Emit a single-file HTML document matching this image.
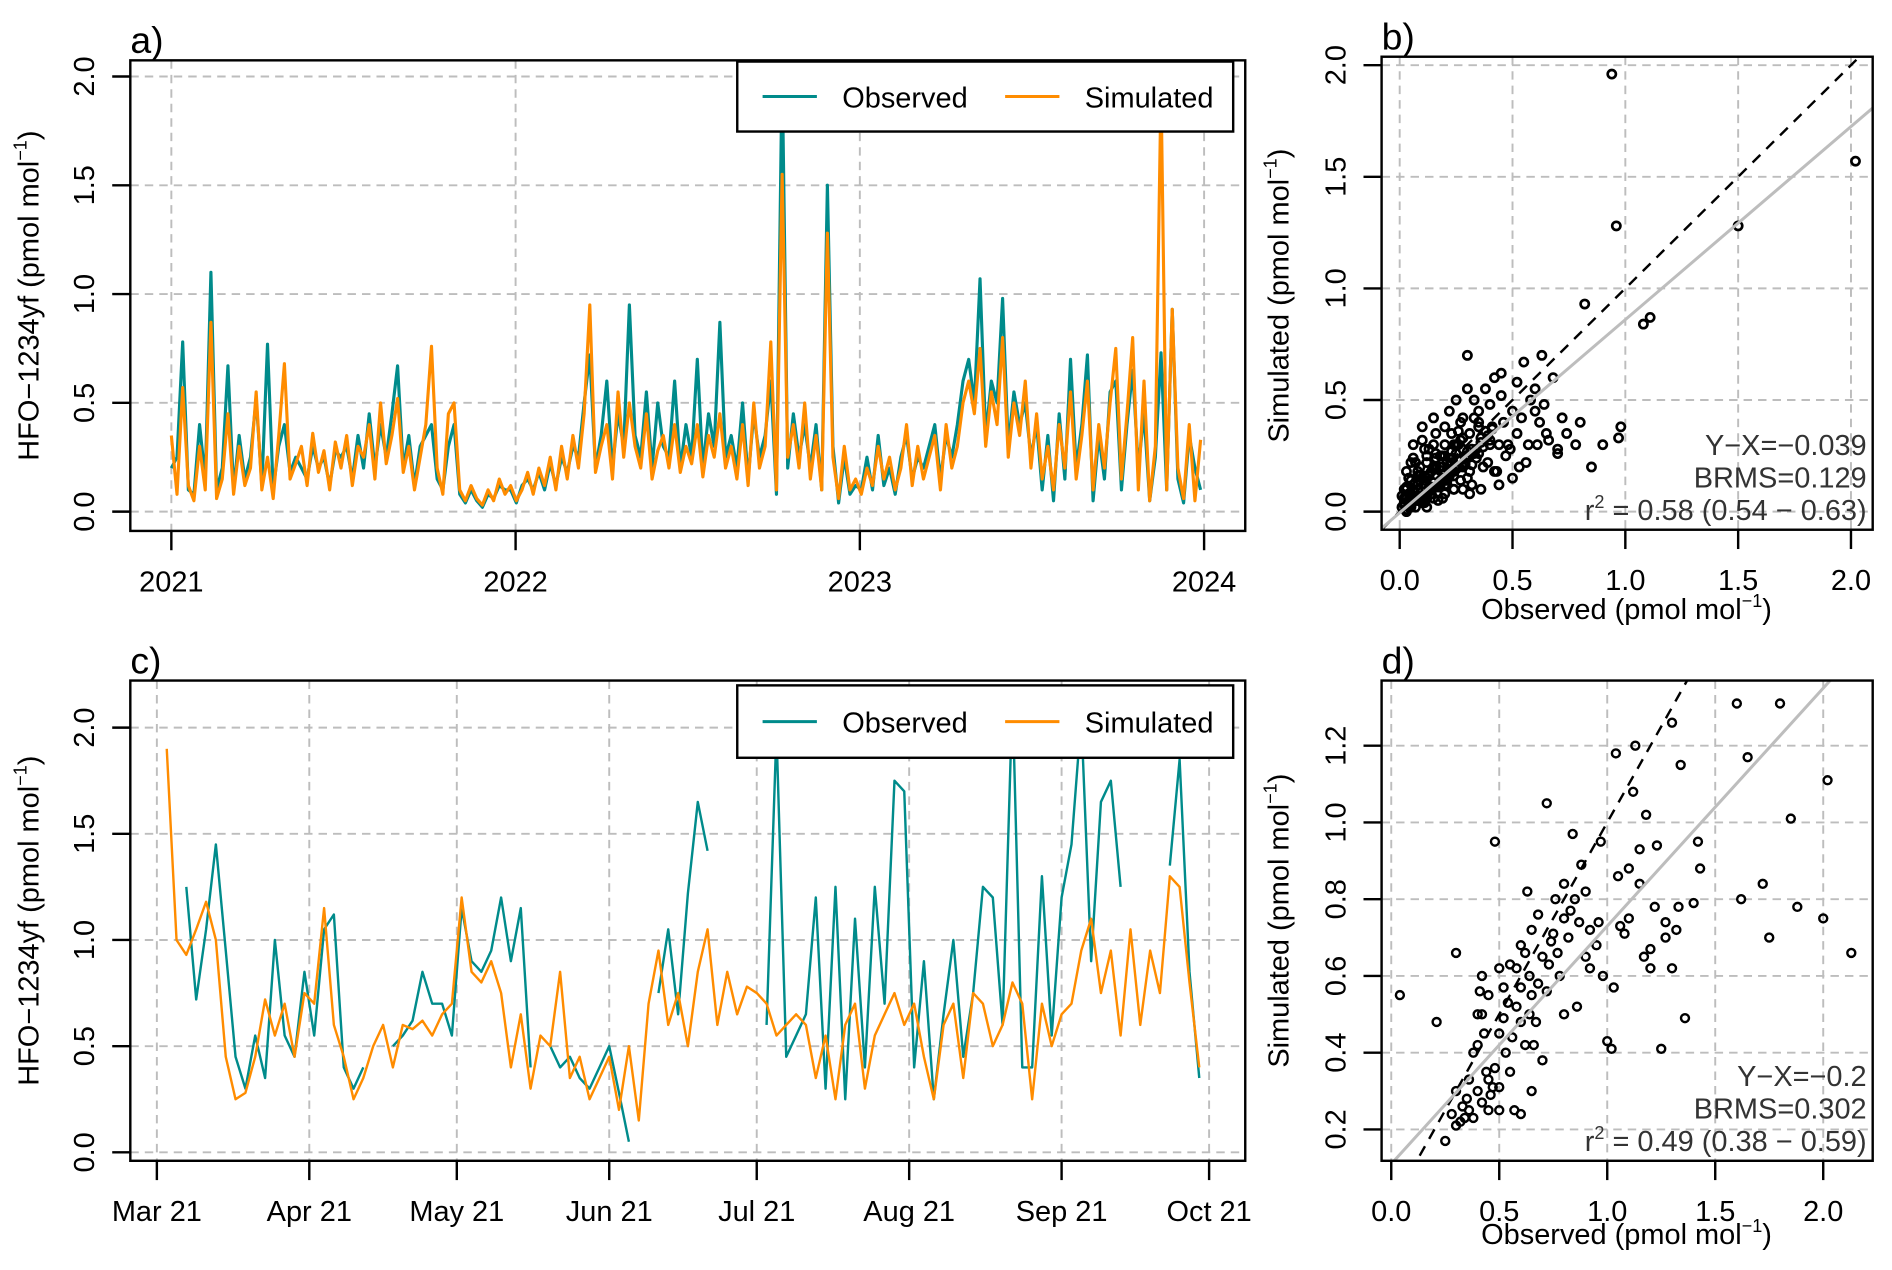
<!DOCTYPE html>
<html><head><meta charset="utf-8"><style>
html,body{margin:0;padding:0;background:#fff;}
svg{display:block;font-family:"Liberation Sans",Arial,sans-serif;}
</style></head><body>
<svg id="fig" width="1892" height="1270" viewBox="0 0 1568 1052.5" xmlns="http://www.w3.org/2000/svg"></svg>
<script>
// ---------- DATA ----------
// Panel a: 6-day resolution from 2021-01-01
const aSim=[0.35,0.08,0.57,0.12,0.05,0.30,0.10,0.87,0.06,0.15,
0.45,0.08,0.30,0.12,0.20,0.55,0.10,0.25,0.06,0.35,
0.68,0.15,0.22,0.30,0.12,0.36,0.18,0.28,0.10,0.32,
0.20,0.35,0.12,0.30,0.25,0.40,0.15,0.50,0.22,0.35,
0.52,0.18,0.30,0.10,0.25,0.40,0.76,0.20,0.08,0.45,
0.50,0.10,0.05,0.12,0.06,0.03,0.10,0.05,0.15,0.08,0.12,
0.05,0.10,0.18,0.08,0.20,0.12,0.25,0.10,0.30,0.15,
0.35,0.20,0.45,0.95,0.18,0.30,0.40,0.15,0.55,0.25,
0.50,0.30,0.20,0.45,0.15,0.28,0.35,0.20,0.40,0.18,
0.30,0.22,0.40,0.16,0.35,0.25,0.45,0.20,0.30,0.15,
0.40,0.12,0.50,0.20,0.30,0.78,0.10,1.55,0.25,0.40,
0.20,0.50,0.15,0.35,0.10,1.28,0.25,0.06,0.30,0.10,0.15,
0.08,0.20,0.12,0.30,0.15,0.25,0.10,0.20,0.40,0.12,
0.30,0.15,0.25,0.35,0.10,0.40,0.20,0.30,0.50,0.60,
0.45,0.75,0.30,0.55,0.40,0.80,0.25,0.50,0.35,0.60,
0.20,0.45,0.15,0.30,0.10,0.40,0.20,0.55,0.15,0.35,
0.60,0.10,0.40,0.20,0.50,0.75,0.15,0.45,0.80,0.10,
0.60,0.05,0.30,1.95,0.10,0.93,0.20,0.06,0.40,0.05,0.33];
const aObs=[0.20,0.25,0.78,0.10,0.08,0.40,0.15,1.10,0.10,0.20,
0.67,0.10,0.35,0.15,0.25,0.52,0.12,0.77,0.10,0.30,
0.40,0.18,0.25,0.20,0.15,0.30,0.20,0.25,0.12,0.28,
0.25,0.30,0.15,0.35,0.20,0.45,0.20,0.40,0.25,0.45,
0.67,0.20,0.35,0.12,0.30,0.35,0.40,0.15,0.10,0.30,
0.40,0.08,0.04,0.10,0.05,0.02,0.08,0.06,0.12,0.10,0.10,
0.04,0.12,0.15,0.10,0.18,0.10,0.22,0.12,0.25,0.18,
0.30,0.25,0.50,0.72,0.20,0.35,0.60,0.20,0.45,0.30,
0.95,0.35,0.25,0.55,0.20,0.50,0.30,0.25,0.60,0.20,
0.40,0.25,0.70,0.20,0.45,0.30,0.87,0.25,0.35,0.20,
0.50,0.15,0.45,0.25,0.35,0.60,0.08,2.05,0.20,0.45,
0.25,0.40,0.20,0.40,0.10,1.50,0.30,0.04,0.25,0.08,0.12,
0.10,0.25,0.10,0.35,0.12,0.20,0.08,0.25,0.35,0.15,
0.25,0.20,0.30,0.40,0.15,0.35,0.25,0.40,0.60,0.70,
0.50,1.07,0.35,0.60,0.50,0.98,0.30,0.55,0.40,0.50,
0.25,0.40,0.10,0.35,0.05,0.45,0.15,0.70,0.20,0.40,
0.72,0.05,0.35,0.15,0.55,0.60,0.10,0.40,0.65,0.20,
0.45,0.05,0.25,0.73,0.10,0.93,0.15,0.04,0.35,0.20,0.10];
const aYearTicks=["2021","2022","2023","2024"];
const aYTicks=[0,0.5,1.0,1.5,2.0];

// Panel c: 2-day resolution from 2021-03-03
const cSim=[1.9,1.0,0.93,1.05,1.18,1.0,0.45,0.25,0.28,0.45,0.72,0.55,0.70,0.45,0.75,
0.7,1.15,0.6,0.45,0.25,0.35,0.5,0.6,0.4,0.6,0.58,0.62,0.55,0.65,0.7,
1.2,0.85,0.8,0.9,0.75,0.4,0.65,0.3,0.55,0.5,0.85,0.35,0.45,0.25,0.35,
0.45,0.2,0.5,0.15,0.7,0.95,0.6,0.75,0.5,0.85,1.05,0.6,0.85,0.65,0.78,
0.75,0.7,0.55,0.6,0.65,0.6,0.35,0.55,0.25,0.6,0.7,0.3,0.55,0.65,0.75,
0.6,0.7,0.45,0.25,0.6,0.7,0.35,0.75,0.7,0.5,0.6,0.8,0.7,0.25,0.7,
0.5,0.65,0.7,0.95,1.1,0.75,0.95,0.55,1.05,0.6,0.95,0.75,1.3,1.25,0.8,0.4];
const cObs=[null,null,1.25,0.72,1.05,1.45,0.95,0.45,0.30,0.55,0.35,1.0,0.55,0.45,0.85,
0.55,1.05,1.12,0.4,0.3,0.4,null,null,0.5,0.55,0.62,0.85,0.7,0.7,0.55,
1.15,0.9,0.85,0.95,1.2,0.9,1.15,0.4,null,0.5,0.4,0.45,0.35,0.3,0.4,
0.5,0.28,0.05,null,null,0.75,1.05,0.65,1.22,1.65,1.42,null,null,null,null,
null,0.6,1.98,0.45,0.55,0.65,1.2,0.3,1.25,0.25,1.1,0.4,1.25,0.7,1.75,
1.7,0.4,0.9,0.25,0.65,1.0,0.45,0.75,1.25,1.2,0.6,2.15,0.4,0.4,1.3,
0.55,1.2,1.45,2.05,0.9,1.65,1.75,1.25,null,null,null,null,1.35,1.85,0.85,0.35];
const cMonthTicks=["Mar 21","Apr 21","May 21","Jun 21","Jul 21","Aug 21","Sep 21","Oct 21"];
const cMonthDays=[0,31,61,92,122,153,184,214];
const cYTicks=[0,0.5,1.0,1.5,2.0];

// Panel b: scatter [observed, simulated]
const bObs=[0.94,2.02,1.5,0.96,0.82,1.08,1.11,0.98,0.97,0.9,0.85,0.63,0.55,0.6,0.72,0.7,0.65,0.5,0.48,0.45,
0.42,0.4,0.38,0.35,0.33,0.3,0.28,0.26,0.25,0.22,0.2,0.18,0.16,0.15,0.14,0.12,0.1,0.09,0.08,0.06,
0.05,0.04,0.03,0.02,0.02,0.03,0.05,0.07,0.09,0.11,0.13,0.15,0.17,0.19,0.21,0.23,0.25,0.27,0.29,0.31,
0.34,0.36,0.39,0.41,0.44,0.47,0.52,0.56,0.58,0.62,0.66,0.68,0.74,0.78,0.8,0.52,0.45,0.4,0.35,0.3,
0.25,0.2,0.15,0.1,0.05,0.08,0.12,0.18,0.22,0.28,0.32,0.37,0.43,0.49,0.54,0.6,0.3,0.24,0.19,0.14,
0.11,0.07,0.04,0.06,0.1,0.16,0.2,0.26,0.33,0.38,0.46,0.5,0.57,0.64,0.7,0.23,0.17,0.13,0.09,0.06,
0.35,0.42,0.28,0.21,0.15,0.12,0.08,0.05,0.03,0.1,0.14,0.19,0.27,0.31,0.24,0.18,0.36,0.44,0.53,0.61,
0.01,0.02,0.03,0.04,0.05,0.06,0.07,0.08,0.09,0.1,0.11,0.12,0.13,0.14,0.15,0.16,0.17,0.18,0.19,0.2,
0.21,0.22,0.23,0.24,0.25,0.26,0.27,0.28,0.29,0.3,0.02,0.04,0.06,0.08,0.1,0.12,0.14,0.16,0.18,0.2,
0.22,0.24,0.26,0.28,0.3,0.32,0.34,0.36,0.38,0.4,0.03,0.05,0.07,0.09,0.11,0.13,0.15,0.17,0.19,0.21,
0.23,0.25,0.27,0.29,0.31,0.33,0.35,0.37,0.39,0.41,0.01,0.03,0.05,0.08,0.12,0.16,0.2,0.24,0.28,0.32];
const bSim=[1.96,1.57,1.28,1.28,0.93,0.84,0.87,0.38,0.33,0.3,0.2,0.7,0.67,0.55,0.42,0.28,0.35,0.45,0.3,0.62,
0.6,0.48,0.55,0.4,0.5,0.7,0.42,0.36,0.3,0.45,0.3,0.25,0.35,0.2,0.18,0.22,0.15,0.2,0.1,0.12,
0.08,0.05,0.06,0.03,0.1,0.18,0.14,0.22,0.05,0.28,0.1,0.3,0.12,0.25,0.15,0.35,0.2,0.4,0.24,0.18,
0.28,0.33,0.22,0.38,0.3,0.25,0.35,0.22,0.5,0.4,0.32,0.6,0.35,0.3,0.4,0.58,0.52,0.3,0.45,0.55,
0.5,0.38,0.42,0.32,0.22,0.18,0.25,0.12,0.16,0.2,0.12,0.2,0.18,0.28,0.42,0.45,0.15,0.1,0.06,0.08,
0.04,0.02,0.15,0.3,0.38,0.26,0.08,0.3,0.42,0.36,0.4,0.15,0.3,0.48,0.26,0.22,0.05,0.28,0.16,0.24,
0.26,0.18,0.1,0.12,0.06,0.02,0.05,0.02,0.0,0.04,0.08,0.2,0.14,0.08,0.1,0.14,0.1,0.12,0.2,0.3,
0.02,0.06,0.01,0.08,0.04,0.1,0.05,0.12,0.07,0.09,0.14,0.08,0.16,0.11,0.13,0.19,0.12,0.2,0.15,0.17,
0.22,0.18,0.24,0.16,0.26,0.2,0.23,0.28,0.21,0.27,0.04,0.02,0.09,0.05,0.07,0.15,0.1,0.2,0.13,0.25,
0.17,0.3,0.2,0.33,0.25,0.28,0.24,0.31,0.36,0.32,0.1,0.03,0.13,0.06,0.16,0.09,0.19,0.11,0.22,0.14,
0.27,0.19,0.32,0.22,0.35,0.26,0.38,0.29,0.34,0.37,0.07,0.11,0.03,0.16,0.06,0.24,0.12,0.18,0.33,0.21];
const bTicks=[0,0.5,1.0,1.5,2.0];

// Panel d: scatter
const dObs=[0.04,0.21,0.25,0.28,0.3,0.3,0.32,0.35,0.36,0.38,0.4,0.4,0.42,0.42,0.44,0.45,0.45,0.47,0.48,0.5,
0.5,0.52,0.53,0.55,0.55,0.57,0.58,0.6,0.6,0.62,0.63,0.64,0.65,0.65,0.67,0.68,0.7,0.7,0.72,0.72,
0.74,0.76,0.78,0.8,0.8,0.82,0.84,0.85,0.86,0.88,0.9,0.9,0.92,0.95,0.97,0.98,1.0,1.02,1.03,1.04,
1.06,1.08,1.1,1.12,1.13,1.15,1.17,1.18,1.2,1.22,1.23,1.25,1.27,1.3,1.32,1.33,1.34,1.36,1.4,1.42,
1.43,1.6,1.62,1.65,1.72,1.75,1.8,1.85,1.88,2.02,2.0,2.13,0.33,0.36,0.38,0.4,0.41,0.43,0.45,0.46,
0.48,0.5,0.52,0.54,0.56,0.58,0.6,0.62,0.64,0.66,0.68,0.73,0.75,0.77,0.8,0.83,0.87,0.92,0.96,1.05,
1.1,1.2,1.3,1.15,1.27,0.3,0.34,0.42,0.5,0.6,0.65];
const dSim=[0.55,0.48,0.17,0.24,0.3,0.66,0.22,0.28,0.25,0.23,0.3,0.42,0.5,0.6,0.35,0.25,0.55,0.31,0.95,0.62,
0.45,0.57,0.4,0.35,0.63,0.25,0.52,0.48,0.68,0.42,0.82,0.6,0.55,0.72,0.48,0.76,0.65,0.38,1.05,0.56,
0.69,0.8,0.6,0.5,0.75,0.7,0.97,0.8,0.52,0.89,0.82,0.65,0.72,0.68,0.95,0.6,0.43,0.41,0.57,1.18,
0.73,0.71,0.88,1.08,1.2,0.84,0.65,1.02,0.62,0.78,0.94,0.41,0.7,1.26,0.72,0.78,1.15,0.49,0.79,0.95,
0.88,1.31,0.8,1.17,0.84,0.7,1.31,1.01,0.78,1.11,0.75,0.66,0.26,0.33,0.4,0.5,0.56,0.45,0.33,0.29,
0.36,0.31,0.49,0.53,0.44,0.62,0.57,0.66,0.5,0.42,0.58,0.63,0.71,0.66,0.84,0.77,0.74,0.62,0.74,0.86,
0.75,0.67,0.62,0.93,0.74,0.21,0.23,0.27,0.25,0.24,0.3];
const dXTicks=[0,0.5,1.0,1.5,2.0];
const dYTicks=[0.2,0.4,0.6,0.8,1.0,1.2];

// ---------- DRAWING ----------
const NS="http://www.w3.org/2000/svg";
const svg=document.getElementById('fig');
function mk(tag,attrs,parent){const e=document.createElementNS(NS,tag);for(const k in attrs)e.setAttribute(k,attrs[k]);(parent||svg).appendChild(e);return e;}
function fmt(v,d){return v.toFixed(d);}
function rotText(x,y,str,size,parent){const t=mk('text',{x:x,y:y,'font-size':size,'text-anchor':'middle',transform:`rotate(-90 ${x} ${y})`},parent);t.textContent=str;return t;}

function frame(p){
  const g=mk('g',{});
  
  
  const cp=mk('clipPath',{id:p.id+'clip'},g);
  mk('rect',{x:p.L,y:p.T,width:p.R-p.L,height:p.B-p.T},cp);
  const grid=mk('g',{stroke:'#bdbdbd','stroke-width':1.6,'stroke-dasharray':'7,5'},g);
  
  
  p.xgrid.forEach(x=>mk('line',{x1:x,x2:x,y1:p.T,y2:p.B},grid));
  p.ygrid.forEach(y=>mk('line',{x1:p.L,x2:p.R,y1:y,y2:y},grid));
  return g;
}
function box(p,g){
  const r=mk('rect',{x:p.L,y:p.T,width:p.R-p.L,height:p.B-p.T,fill:'none',stroke:'#000','stroke-width':2},g);
  
  
  const lt=mk('text',{x:p.L,y:p.T-6,'font-size':31},g);lt.textContent=p.letter;
  
  
}
function xAxis(p,g,positions,labels){
  const ax=mk('g',{},g);
  
  
  positions.forEach((x,i)=>{
    mk('line',{x1:x,x2:x,y1:p.B,y2:p.B+16,stroke:'#000','stroke-width':2},ax);
    const t=mk('text',{x:x,y:p.B+50,'font-size':24,'text-anchor':'middle'},ax);t.textContent=labels[i];
  });
}
function yAxis(p,g,positions,labels){
  const ax=mk('g',{},g);
  
  
  positions.forEach((y,i)=>{
    mk('line',{x1:p.L-15,x2:p.L,y1:y,y2:y,stroke:'#000','stroke-width':2},ax);
    rotText(p.L-30,y,labels[i],24,ax);
  });
}
function pathFrom(xs,ys,color,g,name,w){
  let d='';let pen=false;
  for(let i=0;i<xs.length;i++){
    if(ys[i]===null){pen=false;continue;}
    d+=(pen?'L':'M')+xs[i].toFixed(1)+','+ys[i].toFixed(1);pen=true;
  }
  const p=mk('path',{d:d,fill:'none',stroke:color,'stroke-width':w||2,'stroke-linejoin':'round'},g);
  
  
}
function legend(p,g,top,bot){
  const lg=mk('g',{},g);
  
  
  mk('rect',{x:611,y:top,width:411,height:bot-top,fill:'#fff',stroke:'#000','stroke-width':2},lg);
  const cy=(top+bot)/2;
  const e1=mk('g',{},lg);
  
  
  mk('line',{x1:632,x2:677,y1:cy,y2:cy,stroke:'#008B8B','stroke-width':2.5},e1);
  const t1=mk('text',{x:698,y:cy+9,'font-size':24},e1);t1.textContent='Observed';
  const e2=mk('g',{},lg);
  
  
  mk('line',{x1:833,x2:878,y1:cy,y2:cy,stroke:'#FF8C00','stroke-width':2.5},e2);
  const t2=mk('text',{x:899,y:cy+9,'font-size':24},e2);t2.textContent='Simulated';
}
function unitTitle(x,y,prefix,rot,parent,name){
  const t=mk('text',{x:x,y:y,'font-size':24,'text-anchor':'middle'},parent);
  if(rot)t.setAttribute('transform',`rotate(-90 ${x} ${y})`);
  t.appendChild(document.createTextNode(prefix+' (pmol mol'));
  const s=mk('tspan',{'font-size':15,dy:-10},t);s.textContent='\u22121';
  const c=mk('tspan',{dy:10},t);c.textContent=')';
  
  
}
function stats(p,g,lines){
  const st=mk('g',{'font-size':24,fill:'#333','text-anchor':'end'},g);
  
  
  lines.forEach((s,i)=>{
    const t=mk('text',{x:p.R-5,y:p.B-62+i*27},st);
    if(s.startsWith('r2')){t.appendChild(document.createTextNode('r'));const sp=mk('tspan',{'font-size':15,dy:-10},t);sp.textContent='2';const r=mk('tspan',{dy:10},t);r.textContent=s.slice(2);}
    else t.textContent=s;
  });
}

// ---- Panel a ----
(function(){
  const p={id:'panel-a',name:'panel-a-timeseries',letter:'a)',L:108,R:1032,T:50,B:440};
  const X=yr=>142+(yr-2021)*285.3;
  const Y=v=>424-v*180.3;
  p.xgrid=aYearTicks.map(s=>X(+s));p.ygrid=aYTicks.map(Y);
  const g=frame(p);
  const cg=mk('g',{'clip-path':`url(#${p.id}clip)`},g);
  const xs=aObs.map((_,i)=>X(2021+i*6/365.25));
  pathFrom(xs,aObs.map(Y),'#008B8B',cg,'observed-line-a',2.6);
  pathFrom(xs,aSim.map(Y),'#FF8C00',cg,'simulated-line-a',2.6);
  legend(p,g,51,109);
  box(p,g);
  xAxis(p,g,aYearTicks.map(s=>X(+s)),aYearTicks);
  yAxis(p,g,aYTicks.map(Y),aYTicks.map(v=>fmt(v,1)));
  unitTitle(32,245,'HFO\u22121234yf',true,g,'y-axis-title-a');
})();

// ---- Panel b ----
(function(){
  const p={id:'panel-b',name:'panel-b-scatter',letter:'b)',L:1145,R:1552,T:47,B:439};
  const X=v=>1160+v*187;
  const Y=v=>424-v*185;
  p.xgrid=bTicks.map(X);p.ygrid=bTicks.map(Y);
  const g=frame(p);
  const cg=mk('g',{'clip-path':`url(#${p.id}clip)`},g);
  const pts=mk('g',{fill:'none',stroke:'#000','stroke-width':2.2},cg);
  
  
  bObs.forEach((o,i)=>mk('circle',{cx:X(o),cy:Y(bSim[i]),r:3.4},pts));
  const l1=mk('line',{x1:X(-0.2),y1:Y(-0.2),x2:X(2.3),y2:Y(2.3),stroke:'#000','stroke-width':2,'stroke-dasharray':'9,7'},cg);
  
  const sl=0.865,ic=-0.005;
  const l2=mk('line',{x1:X(-0.2),y1:Y(ic-0.2*sl),x2:X(2.3),y2:Y(ic+2.3*sl),stroke:'#bdbdbd','stroke-width':2.5},cg);
  
  stats(p,g,['Y\u2212X=\u22120.039','BRMS=0.129','r2 = 0.58 (0.54 \u2212 0.63)']);
  box(p,g);
  xAxis(p,g,bTicks.map(X),bTicks.map(v=>fmt(v,1)));
  yAxis(p,g,bTicks.map(Y),bTicks.map(v=>fmt(v,1)));
  unitTitle(1348,513,'Observed',false,g,'x-axis-title-b');
  unitTitle(1068,245,'Simulated',true,g,'y-axis-title-b');
})();

// ---- Panel c ----
(function(){
  const p={id:'panel-c',name:'panel-c-timeseries',letter:'c)',L:108,R:1032,T:564,B:962};
  const X=d=>130+d*4.075;
  const Y=v=>955-v*176;
  p.xgrid=cMonthDays.map(X);p.ygrid=cYTicks.map(Y);
  const g=frame(p);
  const cg=mk('g',{'clip-path':`url(#${p.id}clip)`},g);
  const xs=cSim.map((_,i)=>X(2+2*i));
  pathFrom(xs,cObs.map(v=>v===null?null:Y(v)),'#008B8B',cg,'observed-line-c');
  pathFrom(xs,cSim.map(Y),'#FF8C00',cg,'simulated-line-c');
  legend(p,g,568,628);
  box(p,g);
  xAxis(p,g,cMonthDays.map(X),cMonthTicks);
  yAxis(p,g,cYTicks.map(Y),cYTicks.map(v=>fmt(v,1)));
  unitTitle(32,763,'HFO\u22121234yf',true,g,'y-axis-title-c');
})();

// ---- Panel d ----
(function(){
  const p={id:'panel-d',name:'panel-d-scatter',letter:'d)',L:1145,R:1552,T:564,B:962};
  const X=v=>1153+v*179;
  const Y=v=>936-(v-0.2)*318;
  p.xgrid=dXTicks.map(X);p.ygrid=dYTicks.map(Y);
  const g=frame(p);
  const cg=mk('g',{'clip-path':`url(#${p.id}clip)`},g);
  const pts=mk('g',{fill:'none',stroke:'#000','stroke-width':2},cg);
  
  
  dObs.forEach((o,i)=>mk('circle',{cx:X(o),cy:Y(dSim[i]),r:3.3},pts));
  const l1=mk('line',{x1:X(0),y1:Y(0),x2:X(1.6),y2:Y(1.6),stroke:'#000','stroke-width':2,'stroke-dasharray':'9,7'},cg);
  
  const sl=0.62,ic=0.11;
  const l2=mk('line',{x1:X(-0.1),y1:Y(ic-0.1*sl),x2:X(2.3),y2:Y(ic+2.3*sl),stroke:'#bdbdbd','stroke-width':2.5},cg);
  
  stats(p,g,['Y\u2212X=\u22120.2','BRMS=0.302','r2 = 0.49 (0.38 \u2212 0.59)']);
  box(p,g);
  xAxis(p,g,dXTicks.map(X),dXTicks.map(v=>fmt(v,1)));
  yAxis(p,g,dYTicks.map(Y),dYTicks.map(v=>fmt(v,1)));
  unitTitle(1348,1031,'Observed',false,g,'x-axis-title-d');
  unitTitle(1068,763,'Simulated',true,g,'y-axis-title-d');
})();
</script>
</body></html>
